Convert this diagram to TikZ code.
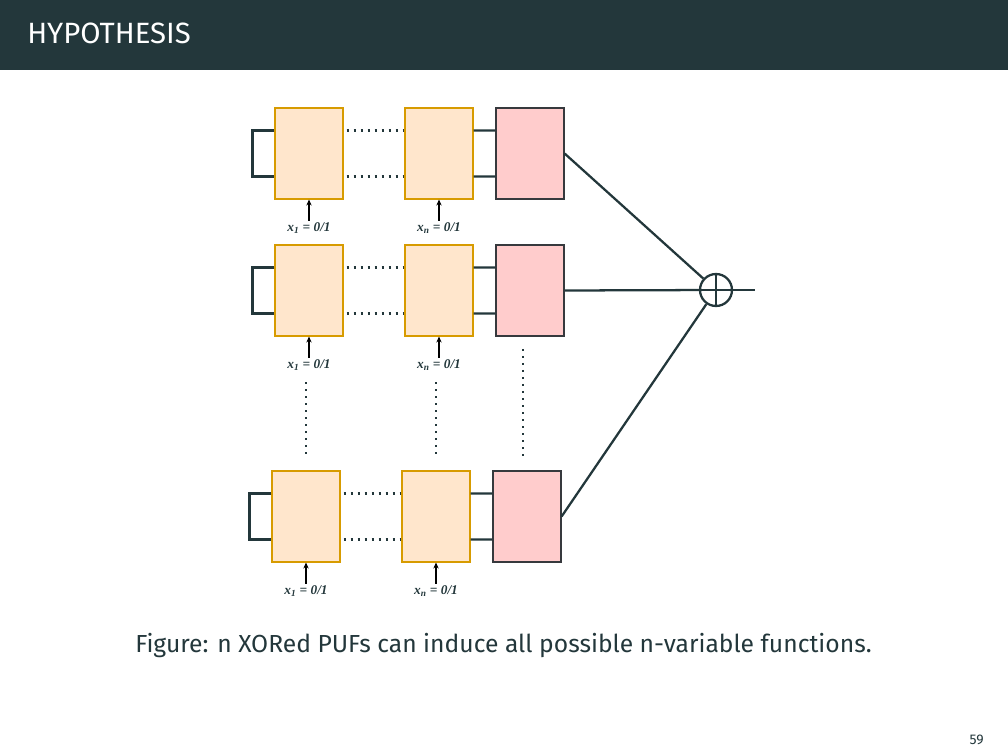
\documentclass[tikz,border=0pt]{standalone}
\usepackage{fontspec}
\setmainfont{Fira Sans}
\newfontfamily\labfont{Liberation Serif}
\usetikzlibrary{calc,arrows.meta}
\definecolor{mdark}{HTML}{23373B}
\definecolor{ofill}{HTML}{FFE6CC}
\definecolor{odraw}{HTML}{D79B00}
\definecolor{pfill}{HTML}{FFCCCC}
\definecolor{pdraw}{HTML}{36393D}
\begin{document}
\begin{tikzpicture}[x=0.75pt,y=-0.75pt,
  obox/.style={draw=odraw,fill=ofill,line width=0.8pt,minimum width=51pt,minimum height=68.25pt,inner sep=0pt},
  pbox/.style={draw=pdraw,fill=pfill,line width=0.9pt,minimum width=51pt,minimum height=68.25pt,inner sep=0pt},
  wire/.style={draw=mdark,line width=1.7pt},
  dotline/.style={draw=mdark,line width=1.6pt,dash pattern=on 1.6pt off 3.65pt},
  lbl/.style={font=\labfont\fontsize{10}{12}\selectfont\bfseries\itshape,text=mdark,inner sep=1pt},
  arr/.style={draw=black,line width=0.8pt,-{Stealth[length=4.5pt,width=4pt]}}]
\useasboundingbox (0,0) rectangle (1008,756);
\fill[mdark] (0,0) rectangle (1008,70);
\node[anchor=base west,text=white,inner sep=0pt,font=\fontsize{22}{24}\selectfont] (title) at (27,44) {HYPOTHESIS};

\foreach \r/\dx/\y in {1/0/153.5,2/0/290.5,3/-3/516.5}{
  \node[obox] (a\r) at (309+\dx,\y) {};
  \node[obox] (b\r) at (439+\dx,\y) {};
  \node[pbox] (p\r) at (530+\dx,\y) {};
  \node[lbl] (la\r) at (309+\dx,\y+74.5) {x\textsubscript{1} = 0/1};
  \node[lbl] (lb\r) at (439+\dx,\y+74.5) {x\textsubscript{n} = 0/1};
  \draw[arr] (la\r.north) -- (a\r.south);
  \draw[arr] (lb\r.north) -- (b\r.south);
  \draw[wire] ($(a\r.north west)!0.25!(a\r.south west)$) -- ++(-22,0) |- ($(a\r.north west)!0.75!(a\r.south west)$);
  \draw[dotline] ($(a\r.north east)!0.25!(a\r.south east)+(3,0)$) -- ($(b\r.north west)!0.25!(b\r.south west)$);
  \draw[dotline] ($(a\r.north east)!0.75!(a\r.south east)+(3,0)$) -- ($(b\r.north west)!0.75!(b\r.south west)$);
  \draw[wire] ($(b\r.north east)!0.25!(b\r.south east)$) -- ($(p\r.north west)!0.25!(p\r.south west)$);
  \draw[wire] ($(b\r.north east)!0.75!(b\r.south east)$) -- ($(p\r.north west)!0.75!(p\r.south west)$);
}

\node[draw=mdark,line width=1.7pt,circle,minimum size=24pt,inner sep=0pt] (xor) at (716,290) {};
\draw[wire] (xor.north) -- (xor.south);
\draw[wire] (xor.west) -- (xor.east);
\foreach \r in {1,2,3}{\draw[wire] (p\r.east) -- (xor);}
\coordinate (out) at (755,290);
\draw[wire] (xor.east) -- (out);

\coordinate (v1s) at (306,382); \coordinate (v1e) at (306,458);
\coordinate (v2s) at (436,382); \coordinate (v2e) at (436,458);
\coordinate (v3s) at (523,349); \coordinate (v3e) at (523,458);
\draw[dotline] (v1s) -- (v1e);
\draw[dotline] (v2s) -- (v2e);
\draw[dotline] (v3s) -- (v3e);

\node[anchor=base west,inner sep=0pt,text=mdark,font=\fontsize{18.5}{22}\selectfont] (cap) at (135,652) {Figure: n XORed PUFs can induce all possible n-variable functions.};
\node[anchor=base east,inner sep=0pt,text=mdark,font=\fontsize{10.5}{12}\selectfont] (pg) at (984,744) {59};
\end{tikzpicture}
\end{document}
